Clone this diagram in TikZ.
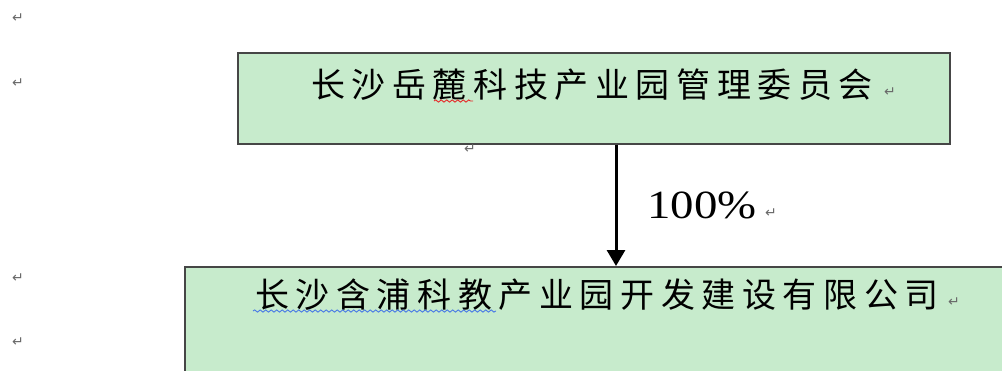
\documentclass[tikz,border=0pt]{standalone}
\usepackage{fontspec}
\setmainfont{Liberation Serif}
\newfontfamily\cjk{Noto Sans CJK SC}
\newfontfamily\markfont{DejaVu Sans}
\usetikzlibrary{decorations.pathmorphing,arrows.meta}
\definecolor{boxfill}{RGB}{199,235,204}
\definecolor{boxline}{RGB}{70,70,70}
\definecolor{markgrey}{RGB}{105,105,105}
\definecolor{wavyred}{RGB}{230,40,40}
\definecolor{wavyblue}{RGB}{70,120,230}
\newlength\fixadvw
\def\fixadvend{\fixadvend}
\def\fixadvloop#1{\ifx#1\fixadvend\else\makebox[\fixadvw][l]{#1}\expandafter\fixadvloop\fi}
\newcommand\fixadv[2]{\setlength\fixadvw{#1}\fixadvloop#2\fixadvend}
\tikzset{
  box/.style={draw=boxline,line width=1.6pt,fill=boxfill,rectangle,inner sep=0pt},
  label text/.style={inner sep=0pt,anchor=west,font=\cjk\fontsize{34}{34}\selectfont},
  pmark/.style={inner sep=0pt,text=markgrey,font=\markfont\fontsize{14}{14}\selectfont},
  wavy/.style={decorate,decoration={snake,amplitude=1.1pt,segment length=5.5pt},line width=0.9pt},
}
\begin{document}
\begin{tikzpicture}[x=1pt,y=-1pt]
\useasboundingbox (0,0) rectangle (1002,370);
\clip (0,0) rectangle (1002,370);
\fill[white] (0,0) rectangle (1002,370);
% boxes
\node[box,minimum width=712pt,minimum height=91pt,anchor=north west] (top) at (237,52) {};
\node[box,minimum width=860pt,minimum height=140pt,anchor=north west] (bot) at (184,266) {};
% texts
\node[label text] (toptext) at (311,85) {\fixadv{40.6pt}{长沙岳麓科技产业园管理委员会}};
\node[label text] (bottext) at (255,295) {\fixadv{40.6pt}{长沙含浦科教产业园开发建设有限公司}};
\node[inner sep=0pt,anchor=base west,font=\fontsize{40}{40}\selectfont,xscale=1.17] (pct) at (647,218) {100\%};
% arrow
\coordinate (astart) at (top.south -| 616,0);
\coordinate (aend) at (bot.north -| 616,0);
\draw[line width=3pt,-{Triangle[length=16pt,width=18pt]}] (astart) -- (aend);
% wavy underlines
\coordinate (w1a) at (434,101);
\coordinate (w1b) at (473,101);
\draw[wavy,wavyred] (w1a) -- (w1b);
\coordinate (w2a) at (253,311);
\coordinate (w2b) at (496,311);
\draw[wavy,wavyblue] (w2a) -- (w2b);
% paragraph marks
\node[pmark] (m1) at (18,18) {↵};
\node[pmark] (m2) at (18,83) {↵};
\node[pmark] (m3) at (18,278) {↵};
\node[pmark] (m4) at (18,342) {↵};
\node[pmark] (m5) at (470,149) {↵};
\node[pmark] (m6) at (890,92) {↵};
\node[pmark] (m7) at (771,213) {↵};
\node[pmark] (m8) at (954,302) {↵};
\end{tikzpicture}
\end{document}
